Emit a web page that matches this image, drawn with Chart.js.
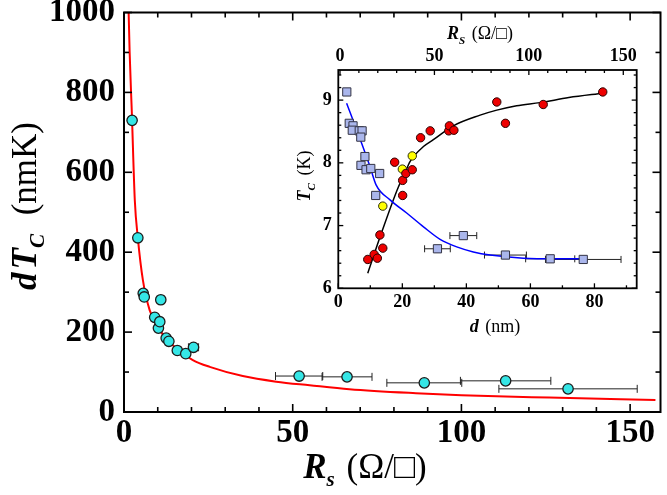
<!DOCTYPE html>
<html><head><meta charset="utf-8">
<script src="https://cdn.jsdelivr.net/npm/chart.js@4"></script>
<style>
html,body{margin:0;padding:0;background:#fff;}
#wrap{position:relative;width:667px;height:495px;overflow:hidden;}
#main{position:absolute;left:0;top:0;}
#inset{position:absolute;left:290px;top:20px;}
</style></head><body>
<div id="wrap">
<canvas id="main" width="667" height="495"></canvas>
<canvas id="inset" width="377" height="320"></canvas>
</div>
<script>
// ---------- Main plot: dT_C (nmK) vs R_s (Ohm/sq) ----------
const MAIN_X_TICKS = [0, 50, 100, 150];
const MAIN_Y_TICKS = [0, 200, 400, 600, 800, 1000];
const MAIN_RS     = [2.4, 4.1, 5.7, 6.0, 10.9, 9.1, 10.2, 10.6, 12.5, 13.3, 15.8, 18.3, 20.6, 51.9, 66.1, 89.0, 113.1, 131.6];
const MAIN_DTC    = [730, 436, 297, 288, 281, 237, 210, 226, 185, 177, 154, 146, 162, 90, 88, 73, 78, 58];
const MAIN_RS_ERR = [0, 0, 0, 0, 0, 0, 0, 0, 0, 0, 0, 0, 1.5, 7.0, 7.4, 11.1, 13.4, 20.5];
const FIT_RS  = [1.2, 1.35, 2.4, 3.2, 4.1, 5.6, 7.6, 10.6, 15.5, 20.4, 25.4, 35.2, 45.1, 55, 66.8, 86.5, 100, 126, 157.5];
const FIT_DTC = [1100, 1010, 730, 530, 436, 330, 255, 205, 159, 130, 113, 90, 76, 67, 57, 47, 42, 36, 30];

// ---------- Inset: T_C (K) vs d (nm) [bottom] and vs R_S [top] ----------
const INSET_D_TICKS  = [0, 20, 40, 60, 80];
const INSET_RS_TICKS = [0, 50, 100, 150];
const INSET_T_TICKS  = [6, 7, 8, 9];
const SQ_RS     = [3.6, 4.9, 6.9, 6.5, 10.2, 11.7, 11.0, 13.2, 11.1, 13.8, 16.3, 21.0, 18.9, 51.6, 65.3, 87.6, 111.3, 128.8];
const SQ_TC     = [9.13, 8.63, 8.59, 8.52, 8.51, 8.51, 8.41, 8.10, 7.96, 7.89, 7.91, 7.83, 7.48, 6.63, 6.84, 6.53, 6.47, 6.46];
const SQ_RS_ERR = [0, 0, 0, 0, 0, 0, 0, 0, 0, 0, 0, 1.5, 0, 6.8, 7.1, 11.1, 13, 20];
const RED_D  = [9.2, 11.2, 12.2, 13.0, 13.9, 17.6, 20.1, 20.1, 21.1, 23.1, 25.7, 28.7, 34.5, 34.7, 36.1, 49.5, 52.2, 64.0, 82.6];
const RED_TC = [6.46, 6.54, 6.48, 6.85, 6.64, 8.01, 7.48, 7.72, 7.83, 7.89, 8.40, 8.51, 8.51, 8.59, 8.52, 8.97, 8.63, 8.93, 9.13];
const YEL_D  = [13.9, 20.0, 23.1];
const YEL_TC = [7.31, 7.90, 8.11];
const BLUE_RS = [3.5, 11.5, 15.9, 19.1, 26.5, 35.3, 44.2, 53, 61.8, 70.6, 79.5, 97.1, 114.8, 127.2];
const BLUE_TC = [8.95, 8.31, 7.94, 7.65, 7.41, 7.20, 6.98, 6.78, 6.66, 6.58, 6.53, 6.48, 6.47, 6.47];
const BLACK_D  = [9.2, 13.6, 18.8, 20.5, 22.4, 26.6, 29.7, 35.9, 44.3, 49.5, 55.7, 63, 72, 82.7];
const BLACK_TC = [6.24, 6.90, 7.62, 7.80, 8.02, 8.26, 8.37, 8.59, 8.76, 8.84, 8.91, 8.96, 9.04, 9.11];

const SERIF = "'Liberation Serif', 'Times New Roman', serif";
const pts = (xs, ys) => xs.map((x, i) => ({x: x, y: ys[i]}));
const plain = v => String(v);

// ---------- plugins ----------
const framePlugin = {
  id: 'frame',
  afterDatasetsDraw(chart, args, o) {
    const ctx = chart.ctx, a = chart.chartArea;
    ctx.save();
    ctx.strokeStyle = '#000';
    ctx.lineWidth = o.tickWidth;
    o.sides.forEach(sd => {
      const sc = chart.scales[sd.scale];
      const k0 = Math.ceil(sc.min / sd.minor - 1e-6), k1 = Math.floor(sc.max / sd.minor + 1e-6);
      for (let k = k0; k <= k1; k++) {
        const v = k * sd.minor;
        const r = v / sd.major;
        const len = Math.abs(r - Math.round(r)) < 1e-6 ? o.majorLen : o.minorLen;
        const p = sc.getPixelForValue(v);
        ctx.beginPath();
        if (sd.side === 'bottom') { ctx.moveTo(p, a.bottom); ctx.lineTo(p, a.bottom - len); }
        if (sd.side === 'top')    { ctx.moveTo(p, a.top);    ctx.lineTo(p, a.top + len); }
        if (sd.side === 'left')   { ctx.moveTo(a.left, p);   ctx.lineTo(a.left + len, p); }
        if (sd.side === 'right')  { ctx.moveTo(a.right, p);  ctx.lineTo(a.right - len, p); }
        ctx.stroke();
      }
    });
    ctx.lineWidth = o.lineWidth;
    ctx.strokeRect(a.left, a.top, a.right - a.left, a.bottom - a.top);
    ctx.restore();
  }
};

const errPlugin = {
  id: 'xerr',
  beforeDatasetsDraw(chart, args, o) {
    const ctx = chart.ctx;
    chart.data.datasets.forEach((ds, i) => {
      if (!ds.xErr) return;
      const meta = chart.getDatasetMeta(i);
      const xs = meta.xScale, ys = meta.yScale;
      ctx.save();
      ctx.strokeStyle = '#222';
      ctx.lineWidth = 1;
      ds.data.forEach((p, j) => {
        const e = ds.xErr[j];
        if (!e) return;
        const x1 = xs.getPixelForValue(p.x - e), x2 = xs.getPixelForValue(p.x + e), y = ys.getPixelForValue(p.y);
        const c = o.cap;
        ctx.beginPath();
        ctx.moveTo(x1, y); ctx.lineTo(x2, y);
        ctx.moveTo(x1, y - c); ctx.lineTo(x1, y + c);
        ctx.moveTo(x2, y - c); ctx.lineTo(x2, y + c);
        ctx.stroke();
      });
      ctx.restore();
    });
  }
};

function drawRich(ctx, item) {
  ctx.save();
  ctx.fillStyle = '#000';
  ctx.textBaseline = 'alphabetic';
  let w = 0;
  item.parts.forEach(p => { ctx.font = p.font; p._w = ctx.measureText(p.t).width; w += p._w + (p.gap || 0); });
  ctx.translate(item.x, item.y);
  if (item.rotate) ctx.rotate(item.rotate);
  let x = -w / 2;
  item.parts.forEach(p => { ctx.font = p.font; ctx.fillText(p.t, x, p.dy || 0); x += p._w + (p.gap || 0); });
  ctx.restore();
}
const titlePlugin = {
  id: 'titles',
  afterDraw(chart, args, o) { o.items.forEach(it => drawRich(chart.ctx, it)); }
};

function fixAxis(prop, val) {
  return s => { s[prop] = val; s.paddingTop = 0; s.paddingBottom = 0; s.paddingLeft = 0; s.paddingRight = 0; };
}
function setTicks(arr) { return s => { s.ticks = arr.map(v => ({value: v})); }; }

// ---------- main chart ----------
const BI = (sz) => 'italic bold ' + sz + 'px ' + SERIF;
const RG = (sz) => sz + 'px ' + SERIF;

new Chart(document.getElementById('main'), {
  type: 'scatter',
  data: {
    datasets: [
      { label: 'dTc', data: pts(MAIN_RS, MAIN_DTC), xErr: MAIN_RS_ERR,
        backgroundColor: '#35e6e6', borderColor: '#1c1c1c', borderWidth: 1.3,
        pointRadius: 5.2, pointHoverRadius: 5.2 },
      { label: 'fit', data: pts(FIT_RS, FIT_DTC), showLine: true, pointRadius: 0,
        borderColor: '#ff0000', borderWidth: 2, cubicInterpolationMode: 'monotone', fill: false }
    ]
  },
  options: {
    responsive: false, animation: false, events: [],
    layout: { padding: { top: 12.5, right: 5, left: 0, bottom: 0 } },
    plugins: {
      legend: { display: false }, tooltip: { enabled: false },
      frame: { lineWidth: 2, tickWidth: 1.6, majorLen: 8, minorLen: 5,
        sides: [
          { scale: 'x', side: 'bottom', major: 50, minor: 10 },
          { scale: 'x', side: 'top', major: 50, minor: 10 },
          { scale: 'y', side: 'left', major: 200, minor: 100 },
          { scale: 'y', side: 'right', major: 200, minor: 100 }
        ] },
      xerr: { cap: 4 },
      titles: { items: [
        { x: 365, y: 478, parts: [
          { t: 'R', font: BI(35) }, { t: 's', font: BI(21), dy: 8, gap: 3 }, { t: ' (Ω/□)', font: RG(35) } ] },
        { x: 36, y: 206, rotate: -Math.PI / 2, parts: [
          { t: 'd', font: BI(35), gap: 3 }, { t: 'T', font: BI(35) }, { t: 'C', font: BI(21), dy: 8, gap: 10 },
          { t: ' (nmK)', font: RG(35) } ] }
      ] }
    },
    scales: {
      x: { type: 'linear', position: 'bottom', min: 0, max: 159,
        grid: { display: false, drawTicks: false }, border: { display: false },
        afterBuildTicks: setTicks(MAIN_X_TICKS), afterFit: fixAxis('height', 83),
        ticks: { callback: plain, font: { family: SERIF, size: 33, weight: 'bold' }, color: '#000', padding: 1.5, maxRotation: 0, autoSkip: false } },
      y: { type: 'linear', position: 'left', min: 0, max: 1000,
        grid: { display: false, drawTicks: false }, border: { display: false },
        afterBuildTicks: setTicks(MAIN_Y_TICKS), afterFit: fixAxis('width', 124),
        ticks: { callback: plain, font: { family: SERIF, size: 33, weight: 'bold' }, color: '#000', padding: 9, autoSkip: false } }
    }
  },
  plugins: [errPlugin, framePlugin, titlePlugin]
});

// ---------- inset chart ----------
const OX = 290, OY = 20;
new Chart(document.getElementById('inset'), {
  type: 'scatter',
  data: {
    datasets: [
      { label: 'red', data: pts(RED_D, RED_TC), xAxisID: 'x', yAxisID: 'y',
        backgroundColor: '#ee0000', borderColor: '#2a0000', borderWidth: 1, pointRadius: 4.2, pointHoverRadius: 4.2 },
      { label: 'yellow', data: pts(YEL_D, YEL_TC), xAxisID: 'x', yAxisID: 'y',
        backgroundColor: '#ffff00', borderColor: '#2a2a00', borderWidth: 1, pointRadius: 4.2, pointHoverRadius: 4.2 },
      { label: 'squares', data: pts(SQ_RS, SQ_TC), xErr: SQ_RS_ERR, xAxisID: 'x2', yAxisID: 'y',
        pointStyle: 'rect', backgroundColor: '#aab6ec', borderColor: '#333344', borderWidth: 1, pointRadius: 5.8, pointHoverRadius: 5.8 },
      { label: 'blueLine', data: pts(BLUE_RS, BLUE_TC), xAxisID: 'x2', yAxisID: 'y', showLine: true, pointRadius: 0,
        borderColor: '#0000ff', borderWidth: 1.5, cubicInterpolationMode: 'monotone', fill: false },
      { label: 'blackLine', data: pts(BLACK_D, BLACK_TC), xAxisID: 'x', yAxisID: 'y', showLine: true, pointRadius: 0,
        borderColor: '#000000', borderWidth: 1.5, cubicInterpolationMode: 'monotone', fill: false }
    ]
  },
  options: {
    responsive: false, animation: false, events: [],
    layout: { padding: { top: 0, right: 30.3, left: 0, bottom: 0 } },
    plugins: {
      legend: { display: false }, tooltip: { enabled: false },
      frame: { lineWidth: 1.8, tickWidth: 1.3, majorLen: 5, minorLen: 3,
        sides: [
          { scale: 'x', side: 'bottom', major: 20, minor: 10 },
          { scale: 'x2', side: 'top', major: 50, minor: 10 },
          { scale: 'y', side: 'left', major: 1, minor: 0.2 },
          { scale: 'y', side: 'right', major: 1, minor: 0.2 }
        ] },
      xerr: { cap: 3.5 },
      titles: { items: [
        { x: 480 - OX, y: 38.5 - OY, parts: [
          { t: 'R', font: BI(18) }, { t: 'S', font: BI(11), dy: 5, gap: 2 }, { t: ' (Ω/□)', font: RG(18) } ] },
        { x: 495 - OX, y: 332 - OY, parts: [
          { t: 'd', font: BI(18), gap: 2 }, { t: ' (nm)', font: RG(18) } ] },
        { x: 310 - OX, y: 176 - OY, rotate: -Math.PI / 2, parts: [
          { t: 'T', font: BI(18) }, { t: 'C', font: BI(11), dy: 5, gap: 3 }, { t: ' (K)', font: RG(18) } ] }
      ] }
    },
    scales: {
      x: { type: 'linear', position: 'bottom', min: 0, max: 93.2,
        grid: { display: false, drawTicks: false }, border: { display: false },
        afterBuildTicks: setTicks(INSET_D_TICKS), afterFit: fixAxis('height', 51.7),
        ticks: { callback: plain, font: { family: SERIF, size: 18, weight: 'bold' }, color: '#000', padding: 3.4, maxRotation: 0, autoSkip: false } },
      x2: { type: 'linear', axis: 'x', position: 'top', min: -0.9, max: 157.1,
        grid: { display: false, drawTicks: false }, border: { display: false },
        afterBuildTicks: setTicks(INSET_RS_TICKS), afterFit: fixAxis('height', 50),
        ticks: { callback: plain, font: { family: SERIF, size: 18, weight: 'bold' }, color: '#000', padding: 3.3, maxRotation: 0, autoSkip: false } },
      y: { type: 'linear', position: 'left', min: 6, max: 9.48,
        grid: { display: false, drawTicks: false }, border: { display: false },
        afterBuildTicks: setTicks(INSET_T_TICKS), afterFit: fixAxis('width', 48.3),
        ticks: { callback: plain, font: { family: SERIF, size: 18, weight: 'bold' }, color: '#000', padding: 6.6, autoSkip: false } }
    }
  },
  plugins: [errPlugin, framePlugin, titlePlugin]
});
</script>
</body></html>
